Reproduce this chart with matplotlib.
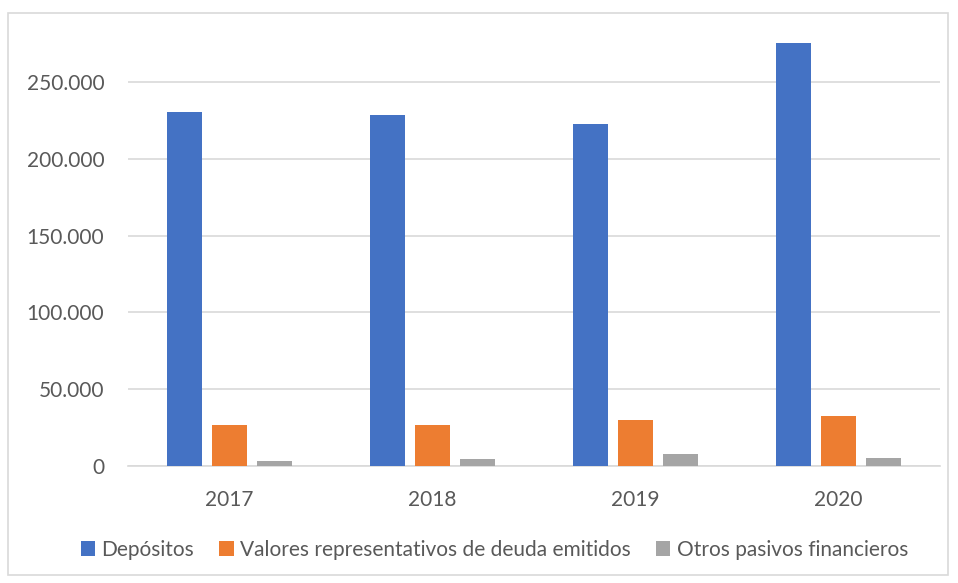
import numpy as np
import matplotlib
matplotlib.use("Agg")
import matplotlib.pyplot as plt
from matplotlib.ticker import FuncFormatter
from matplotlib.patches import Rectangle

# Data (millones de euros)
years = ["2017", "2018", "2019", "2020"]
depositos = [230300, 228600, 222500, 275300]
valores = [26800, 26600, 29700, 32500]
otros = [3200, 4500, 7600, 5200]

series_names = ["Depósitos", "Valores representativos de deuda emitidos", "Otros pasivos financieros"]
colors = ["#4472C4", "#ED7D31", "#A5A5A5"]

plt.rcParams['font.family'] = ['Lato', 'DejaVu Sans']

fig = plt.figure(figsize=(9.58, 5.83), dpi=100)
ax = fig.add_axes([0.1336, 0.2007, 0.8475, 0.7273])

x = np.arange(len(years))
width = 0.175
step = 0.222
for i, (vals, name, c) in enumerate(zip([depositos, valores, otros], series_names, colors)):
    ax.bar(x + (i - 1) * step, vals, width, color=c, label=name, zorder=3)

ax.set_xlim(-0.5, len(years) - 0.5)
ax.set_ylim(0, 276000)
ax.set_yticks(range(0, 250001, 50000))
ax.yaxis.set_major_formatter(FuncFormatter(lambda v, p: f"{int(v):,}".replace(",", ".")))
ax.set_xticks(x)
ax.set_xticklabels(years)
ax.grid(axis="y", color="#D9D9D9", linewidth=1.2, zorder=0)
for s in ["top", "right", "left"]:
    ax.spines[s].set_visible(False)
ax.spines["bottom"].set_color("#D9D9D9")
ax.spines["bottom"].set_linewidth(1.2)
ax.tick_params(axis="both", length=0, labelsize=15, colors="#595959")
ax.tick_params(axis="x", pad=17)
ax.tick_params(axis="y", pad=17)

fig.legend(loc="center", bbox_to_anchor=(0.516, 0.057), ncol=3, frameon=False,
           fontsize=15, labelcolor="#595959", handlelength=0.7, handleheight=0.7,
           handletextpad=0.3, columnspacing=1.2)

fig.patches.append(Rectangle((8 / 958, 1 - 575 / 583), 940 / 958, 562 / 583,
                             transform=fig.transFigure, fill=False,
                             edgecolor="#D9D9D9", linewidth=1.2))

fig.savefig("out.png", dpi=100)
